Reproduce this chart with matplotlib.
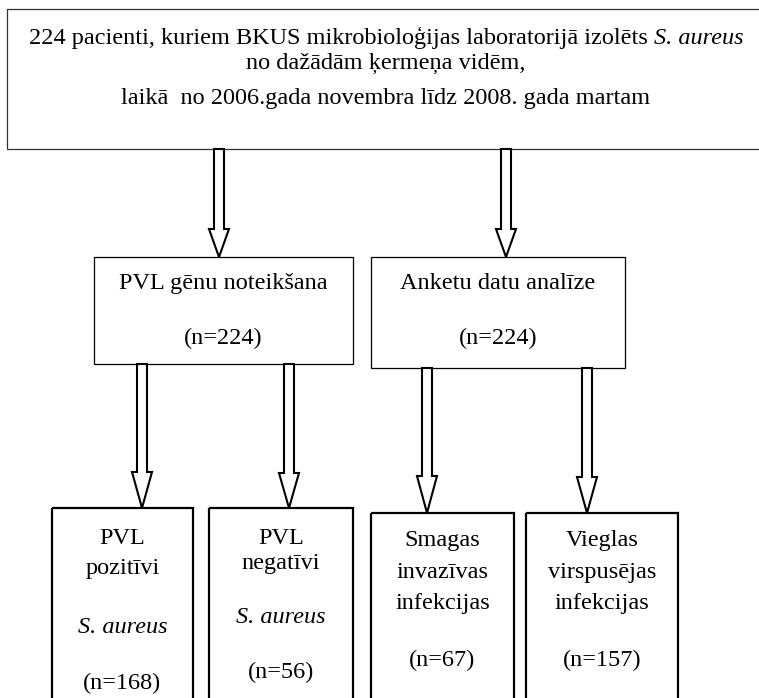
import matplotlib.pyplot as plt
from matplotlib.patches import Rectangle, Polygon

plt.rcParams['font.family'] = ['Liberation Serif', 'DejaVu Serif']

# chart content
top_text = ["224 pacienti, kuriem BKUS mikrobioloģijas laboratorijā izolēts ",
            "S. aureus",
            "no dažādām ķermeņa vidēm,",
            "laikā  no 2006.gada novembra līdz 2008. gada martam"]
mid_labels = ["PVL gēnu noteikšana", "Anketu datu analīze"]
mid_counts = [224, 224]
bottom_labels = [["PVL", "pozitīvi", "S. aureus"],
                 ["PVL", "negatīvi", "S. aureus"],
                 ["Smagas", "invazīvas", "infekcijas"],
                 ["Vieglas", "virspusējas", "infekcijas"]]
bottom_counts = [168, 56, 67, 157]

FS = 17.5

fig = plt.figure(figsize=(7.59, 6.98), dpi=100)
ax = fig.add_axes([0, 0, 1, 1])
ax.set_xlim(0, 759)
ax.set_ylim(698, 0)
ax.axis('off')


def box(x0, y0, x1, y1, lw, color='black'):
    ax.add_patch(Rectangle((x0, y0), x1 - x0, y1 - y0, fill=False,
                           edgecolor=color, linewidth=lw))


def arrow(cx, y0, y1, head_len, shaft_w=10, head_w=20):
    pts = [(cx - shaft_w / 2, y0), (cx + shaft_w / 2, y0),
           (cx + shaft_w / 2, y1 - head_len), (cx + head_w / 2, y1 - head_len),
           (cx, y1), (cx - head_w / 2, y1 - head_len),
           (cx - shaft_w / 2, y1 - head_len)]
    ax.add_patch(Polygon(pts, closed=True, facecolor='white',
                         edgecolor='black', linewidth=1.5, joinstyle='miter'))


# top box
box(7, 9, 770, 149, 0.9, '#333333')
t1 = ax.text(0, 44, top_text[0], fontsize=FS, ha='left', va='baseline')
t2 = ax.text(0, 44, top_text[1], fontsize=FS, ha='left', va='baseline',
             style='italic')
fig.canvas.draw()
r = fig.canvas.get_renderer()
inv = ax.transData.inverted()
w1 = inv.transform((t1.get_window_extent(r).width, 0))[0] - inv.transform((0, 0))[0]
w2 = inv.transform((t2.get_window_extent(r).width, 0))[0] - inv.transform((0, 0))[0]
start = 386 - (w1 + w2) / 2
t1.set_x(start)
t2.set_x(start + w1)
ax.text(386, 69, top_text[2], fontsize=FS, ha='center', va='baseline')
ax.text(386, 104, top_text[3], fontsize=FS, ha='center', va='baseline')

# arrows from top box
arrow(219, 149, 257, 28)
arrow(506, 149, 257, 28)

# middle boxes
mid_boxes = [(94, 257, 353, 364), (371, 257, 625, 368)]
for (x0, y0, x1, y1), lab, n in zip(mid_boxes, mid_labels, mid_counts):
    box(x0, y0, x1, y1, 0.9)
    cx = (x0 + x1) / 2
    ax.text(cx, 289, lab, fontsize=FS, ha='center', va='baseline')
    ax.text(cx, 344, f"(n={n})", fontsize=FS, ha='center', va='baseline')

# arrows to bottom boxes
arrow(142, 364, 508, 36)
arrow(289, 364, 508, 35)
arrow(427, 368, 513, 37)
arrow(587, 368, 513, 36)

# bottom boxes
bot_boxes = [(52, 508), (209, 508), (371, 513), (526, 513)]
bot_right = [193, 353, 514, 678]
line_y = [[544, 574, 633, 689],
          [544, 569, 623, 678],
          [546, 578, 609, 666],
          [546, 578, 609, 666]]
for i, ((x0, y0), x1) in enumerate(zip(bot_boxes, bot_right)):
    box(x0, y0, x1, 720, 1.6)
    cx = (x0 + x1) / 2
    for j, lab in enumerate(bottom_labels[i]):
        st = 'italic' if lab == "S. aureus" else 'normal'
        ax.text(cx, line_y[i][j], lab, fontsize=FS, ha='center',
                va='baseline', style=st)
    ax.text(cx, line_y[i][3], f"(n={bottom_counts[i]})", fontsize=FS,
            ha='center', va='baseline')

fig.savefig('out.png', dpi=100)
